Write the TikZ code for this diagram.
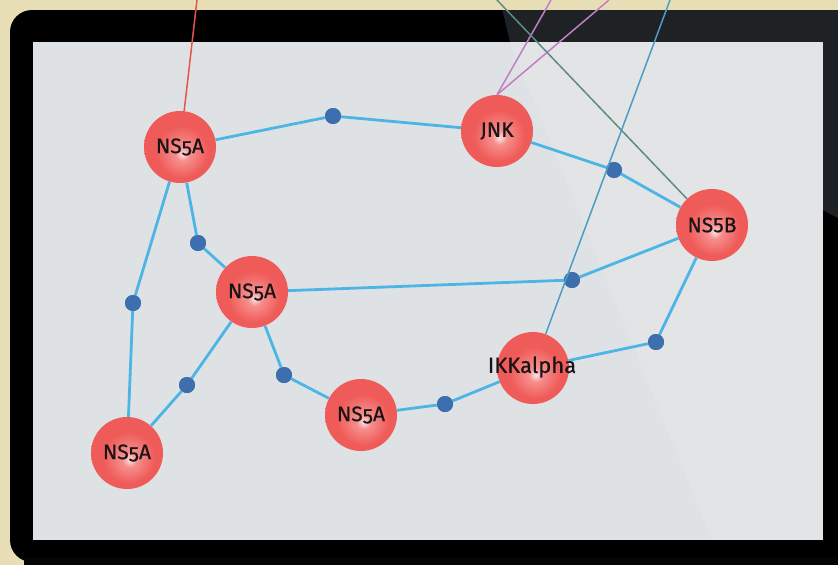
\documentclass[tikz,border=0pt]{standalone}
\usepackage{fontspec}
\setmainfont{Fira Sans}
\newfontfamily\lblold[Numbers=OldStyle,FakeBold=0.6]{Fira Sans}
\newfontfamily\lbllin[FakeBold=0.6]{Fira Sans}
\definecolor{beige}{HTML}{E7DEB6}
\definecolor{screen}{HTML}{DFE2E4}
\definecolor{bezelgrey}{HTML}{1E2225}
\definecolor{ballred}{HTML}{EF5B58}
\definecolor{balledge}{HTML}{EA5452}
\definecolor{ballmid}{HTML}{F68F8D}
\definecolor{ballhi}{HTML}{FDE4E4}
\definecolor{edgeblue}{HTML}{4DB5E6}
\definecolor{dotblue}{HTML}{3D6EAE}
\definecolor{linered}{HTML}{E4554C}
\definecolor{linepink}{HTML}{C17EC4}
\definecolor{linegreen}{HTML}{5F8C80}
\definecolor{lineblue}{HTML}{4B9EC4}
\definecolor{txt}{HTML}{1A1416}
\pgfdeclareradialshading{redball}{\pgfpoint{2bp}{-5bp}}{color(0bp)=(ballhi); color(5bp)=(ballmid); color(18bp)=(ballred); color(40bp)=(ballred); color(50bp)=(balledge)}
\tikzset{
  ball/.style={circle, minimum size=72pt, inner sep=0pt, shading=redball, text=txt, font=\lblold\fontsize{21}{22}\selectfont},
  dot/.style={circle, minimum size=16pt, inner sep=0pt, fill=dotblue},
  link/.style={draw=edgeblue, line width=2.8pt},
  thin/.style={line width=1.5pt}
}
\begin{document}
\begin{tikzpicture}[x=1pt,y=-1pt]
\useasboundingbox (0,0) rectangle (838,565);
\fill[beige] (0,0) rectangle (838,565);
% frame
\begin{scope}
\fill[black, rounded corners=22pt] (10,10) rectangle (860,562);
\clip[rounded corners=22pt] (10,10) rectangle (860,562);
\fill[bezelgrey] (500,0) -- (860,0) -- (860,230) -- (510,42) -- cycle;
\end{scope}
\fill[black!85!bezelgrey] (24,557) rectangle (838,565);
% screen
\fill[screen] (33,42) rectangle (823,540);
\fill[white, opacity=0.10] (510,42) -- (823,42) -- (823,540) -- (712,540) -- cycle;

% nodes
\node[ball] (a1) at (180,147) {NS5A};
\node[ball] (jnk) at (497,131) {JNK};
\node[ball, font=\lbllin\fontsize{21}{22}\selectfont] (b) at (712,225) {NS5B};
\node[ball] (a2) at (252,292) {NS5A};
\node[ball] (ikk) at (533,368) {};
\node[ball] (a3) at (361,415) {NS5A};
\node[ball] (a4) at (127,453) {NS5A};

\node[dot] (d1) at (333,116) {};
\node[dot] (d2) at (614,170) {};
\node[dot] (d3) at (198,243) {};
\node[dot] (d4) at (572,280) {};
\node[dot] (d5) at (133,303) {};
\node[dot] (d6) at (656,342) {};
\node[dot] (d7) at (187,385) {};
\node[dot] (d8) at (284,375) {};
\node[dot] (d9) at (445,404) {};

% edges
\path[link] (a1) -- (d1) -- (jnk);
\path[link] (jnk) -- (d2) -- (b);
\path[link] (a1) -- (d3) -- (a2);
\path[link] (a2) -- (d4) -- (b);
\path[link] (a1) -- (d5) -- (a4);
\path[link] (b) -- (d6) -- (ikk);
\path[link] (a2) -- (d7) -- (a4);
\path[link] (a2) -- (d8) -- (a3);
\path[link] (a3) -- (d9) -- (ikk);

% redraw dots on top
\foreach \d in {d1,d2,d3,d4,d5,d6,d7,d8,d9} {\fill[dotblue] (\d) circle (8pt);}

% long lines
\coordinate (tr) at (197,0);
\coordinate (tp1) at (551,0);
\coordinate (tp2) at (609,0);
\coordinate (tg) at (497,0);
\coordinate (tb) at (670,0);
\draw[linered, thin] (a1) -- (tr);
\draw[linepink, thin] (jnk.north) -- (tp1);
\draw[linepink, thin] (jnk.north) -- (tp2);
\draw[linegreen, thin] (b) -- (tg);
\draw[lineblue, thin] (ikk) -- (tb);

\node[text=txt, font=\lblold\fontsize{22}{22}\selectfont, inner sep=0pt] (ikkl) at (532,367) {IKKalpha};
\end{tikzpicture}
\end{document}
